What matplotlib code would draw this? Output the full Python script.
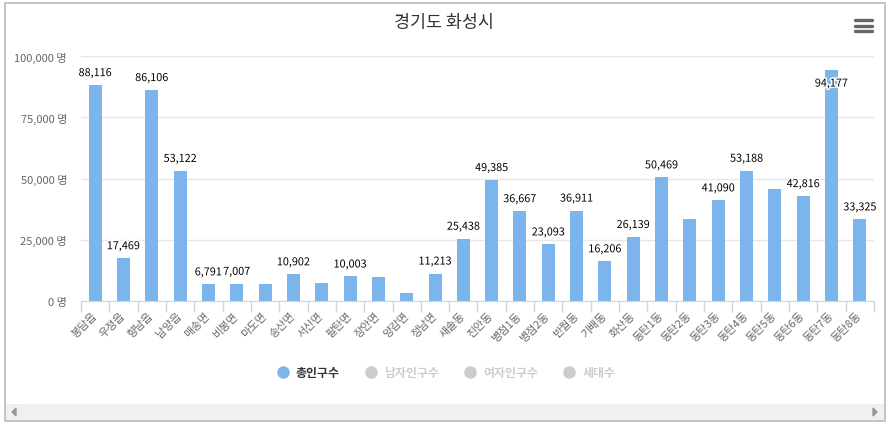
import numpy as np
import matplotlib
matplotlib.use('Agg')
import matplotlib.pyplot as plt
import matplotlib.patheffects as pe
from matplotlib.patches import Rectangle, Polygon
from matplotlib.lines import Line2D

plt.rcParams['font.family'] = ['Noto Sans CJK KR', 'DejaVu Sans']

title = '경기도 화성시'
regions = ['봉담읍', '우정읍', '향남읍', '남양읍', '매송면', '비봉면', '마도면', '송산면',
           '서신면', '팔탄면', '장안면', '양감면', '정남면', '새솔동', '진안동', '병점1동',
           '병점2동', '반월동', '기배동', '화산동', '동탄1동', '동탄2동', '동탄3동', '동탄4동',
           '동탄5동', '동탄6동', '동탄7동', '동탄8동']
population = [88116, 17469, 86106, 53122, 6791, 7007, 6800, 10902,
              7300, 10003, 10000, 3400, 11213, 25438, 49385, 36667,
              23093, 36911, 16206, 26139, 50469, 33500, 41090, 53188,
              45700, 42816, 94177, 33325]
# labels the original chart hides because they overlap
hidden_labels = ['마도면', '서신면', '장안면', '양감면', '동탄2동', '동탄5동']
series_names = ['총인구수', '남자인구수', '여자인구수', '세대수']
y_ticks = [0, 25000, 50000, 75000, 100000]

W, H = 889, 427
fig = plt.figure(figsize=(W / 100, H / 100), dpi=100)

def px(x0, y0, x1, y1):
    return [x0 / W, 1 - y1 / H, (x1 - x0) / W, (y1 - y0) / H]

ax = fig.add_axes(px(81, 57, 874, 302))
x = np.arange(len(regions))
ax.bar(x, population, width=0.46, color='#7cb5ec', zorder=3)

ax.set_xlim(-0.5, len(regions) - 0.5)
ax.set_ylim(0, 100000)
ax.set_yticks(y_ticks)
ax.set_yticklabels(['{:,} 명'.format(v) for v in y_ticks])
ax.grid(axis='y', color='#e6e6e6', lw=1, zorder=0)
ax.tick_params(axis='y', length=0, pad=10, labelsize=8, labelcolor='#666666')

ax.set_xticks(np.arange(len(regions) + 1) - 0.5)
ax.set_xticklabels([])
ax.tick_params(axis='x', which='major', length=8, width=1, color='#ccd6eb')
ax.set_xticks(x, minor=True)
ax.set_xticklabels(regions, minor=True, rotation=45, ha='right',
                   rotation_mode='anchor', va='center')
ax.tick_params(axis='x', which='minor', length=0, pad=9, labelsize=8, labelcolor='#666666')

for s in ['top', 'right', 'left']:
    ax.spines[s].set_visible(False)
ax.spines['bottom'].set_color('#ccd6eb')
ax.spines['bottom'].set_zorder(4)

outline = [pe.withStroke(linewidth=2.2, foreground='white')]
for xi, name, v in zip(x, regions, population):
    if name in hidden_labels:
        continue
    if v > 0.9 * ax.get_ylim()[1]:
        ax.annotate('{:,}'.format(v), (xi, v), xytext=(0, -6), textcoords='offset points',
                    ha='center', va='top', fontsize=7.8, color='#000000',
                    fontweight='medium', path_effects=outline, zorder=5)
    else:
        ax.annotate('{:,}'.format(v), (xi, v), xytext=(0, 5), textcoords='offset points',
                    ha='center', va='bottom', fontsize=7.8, color='#000000',
                    fontweight='medium', path_effects=outline, zorder=5)

fig.text(444 / W, 1 - 23 / H, title, ha='center', va='center', fontsize=12.5, color='#333333')

# legend (only the first series is switched on)
handles = [Line2D([], [], ls='none', marker='o', markersize=9,
                  markerfacecolor='#7cb5ec' if i == 0 else '#cccccc', markeredgewidth=0)
           for i in range(len(series_names))]
leg = fig.legend(handles, series_names, loc='center', bbox_to_anchor=(446 / W, 1 - 374 / H),
                 ncol=4, frameon=False, handletextpad=0.6, columnspacing=2.1,
                 handlelength=1.0, prop={'size': 8.6, 'weight': 'bold'})
for i, t in enumerate(leg.get_texts()):
    t.set_color('#333333' if i == 0 else '#cccccc')

# menu icon
for yy in [21, 26.5, 32]:
    fig.add_artist(Line2D([855 / W, 872 / W], [1 - yy / H] * 2, color='#666666', lw=2.4,
                          solid_capstyle='round'))

# scrollbar
fig.add_artist(Rectangle((5 / W, 1 - 422 / H), 880 / W, 17 / H, transform=fig.transFigure,
                         facecolor='#f0f0f0', edgecolor='none'))
fig.add_artist(Polygon([[16 / W, 1 - 409 / H], [16 / W, 1 - 417 / H], [12 / W, 1 - 413 / H]],
                       closed=True, transform=fig.transFigure, color='#999999'))
fig.add_artist(Polygon([[873 / W, 1 - 409 / H], [873 / W, 1 - 417 / H], [877 / W, 1 - 413 / H]],
                       closed=True, transform=fig.transFigure, color='#999999'))
# outer border
fig.add_artist(Rectangle((5 / W, 1 - 422 / H), 880 / W, 418 / H, transform=fig.transFigure,
                         facecolor='none', edgecolor='#bbbbbb', lw=1.2))

fig.savefig('out.png', dpi=100)
